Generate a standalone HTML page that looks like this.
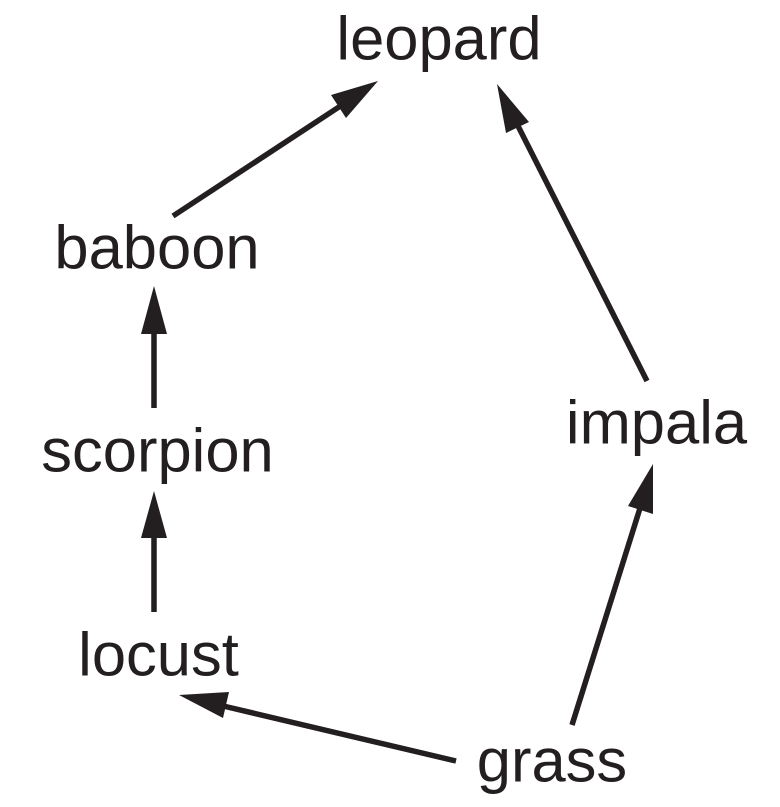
<!DOCTYPE html>
<html>
<head>
<meta charset="utf-8">
<style>
html,body{margin:0;padding:0;background:#fff;}
svg{display:block;}
text{font-family:"Liberation Sans",Arial,sans-serif;font-size:61.5px;fill:#231f20;text-anchor:middle;}
line{stroke:#231f20;stroke-width:5.5;}
polygon{fill:#231f20;}
</style>
</head>
<body>
<svg width="780" height="807" viewBox="0 0 780 807" xmlns="http://www.w3.org/2000/svg">
<text x="439" y="59.5">leopard</text>
<text x="157" y="268.5">baboon</text>
<text x="157.5" y="471.5">scorpion</text>
<text x="158.5" y="675.5">locust</text>
<text x="656.5" y="443.5">impala</text>
<text x="552" y="781.5">grass</text>

<line x1="173" y1="216" x2="345" y2="103"/>
<polygon points="378,81 346,118 331,95"/>

<line x1="154" y1="408" x2="154" y2="330"/>
<polygon points="154,286 167,334 141,334"/>

<line x1="154" y1="612" x2="154" y2="534"/>
<polygon points="154,491 167,538 141,538"/>

<line x1="647" y1="381" x2="516" y2="122"/>
<polygon points="497,84 529,122 506,133"/>

<line x1="572" y1="725" x2="641" y2="505"/>
<polygon points="653,464 653,514 628,506"/>

<line x1="456" y1="761" x2="219" y2="705"/>
<polygon points="179,695 229,692 223,718"/>
</svg>
</body>
</html>
